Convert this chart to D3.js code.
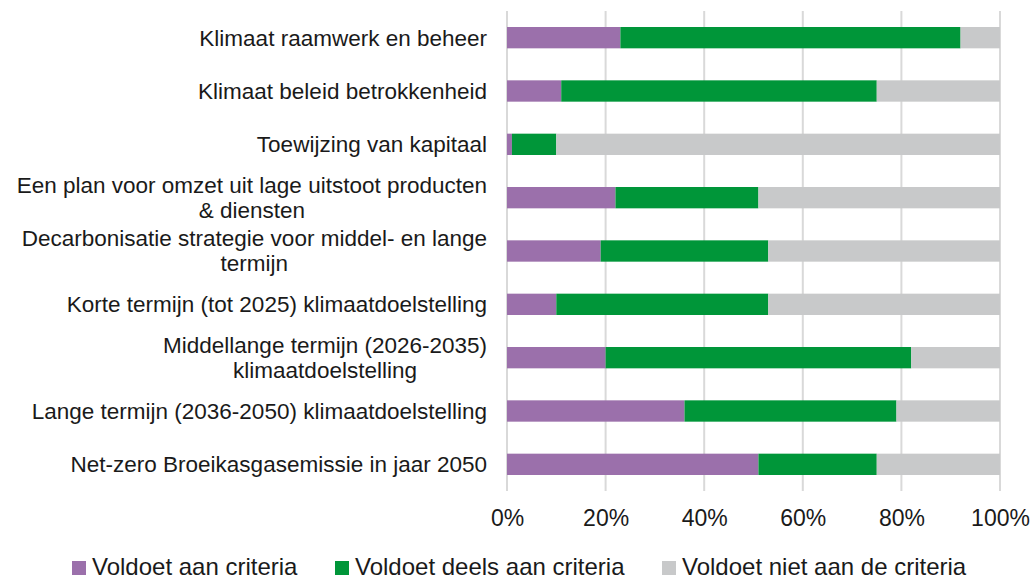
<!DOCTYPE html>
<head>
	<meta charset="utf-8">
	<title>Klimaatcriteria</title>
	<style>
	body { margin: 0; background: #fff; }
	text { font-family: "Liberation Sans", Arial, sans-serif; fill: #1a1a1a; }
	.grid line { stroke: #d9d9d9; stroke-width: 2; }
	</style>
</head>
<body>
<script src="https://d3js.org/d3.v7.min.js"></script>
<script>

// categories (label lines as shown on the chart)
var categories = [
	["Klimaat raamwerk en beheer"],
	["Klimaat beleid betrokkenheid"],
	["Toewijzing van kapitaal"],
	["Een plan voor omzet uit lage uitstoot producten", "& diensten"],
	["Decarbonisatie strategie voor middel- en lange", "termijn"],
	["Korte termijn (tot 2025) klimaatdoelstelling"],
	["Middellange termijn (2026-2035)", "klimaatdoelstelling"],
	["Lange termijn (2036-2050) klimaatdoelstelling"],
	["Net-zero Broeikasgasemissie in jaar 2050"]
];

var series = ["Voldoet aan criteria", "Voldoet deels aan criteria", "Voldoet niet aan de criteria"];
var colors = ["#9b70ab", "#009639", "#c8c9ca"];

var voldoet      = [23, 11, 1, 22, 19, 10, 20, 36, 51];
var deels        = [69, 64, 9, 29, 34, 43, 62, 43, 24];
var niet         = [8, 25, 90, 49, 47, 47, 18, 21, 25];

var ticks = [0, 20, 40, 60, 80, 100];

var width = 1034, height = 581;

var svg = d3.select("body").append("svg")
	.attr("width", width)
	.attr("height", height);

var x = d3.scaleLinear().domain([0, 100]).range([507, 1000]);
var y = d3.scaleBand().domain(d3.range(categories.length)).range([11, 491])
	.paddingInner(0.6).paddingOuter(0.3);

// gridlines
svg.append("g").attr("class", "grid")
	.selectAll("line").data(ticks).enter().append("line")
	.attr("x1", function(d) { return x(d); })
	.attr("x2", function(d) { return x(d); })
	.attr("y1", 11).attr("y2", 491);

// stacked bars
var rows = categories.map(function(c, i) {
	return { i: i, a: voldoet[i], b: deels[i], c: niet[i] };
});
var stack = d3.stack().keys(["a", "b", "c"])(rows);

svg.selectAll(".layer").data(stack).enter().append("g")
	.attr("fill", function(d, i) { return colors[i]; })
	.selectAll("rect").data(function(d) { return d; }).enter().append("rect")
	.attr("x", function(d) { return x(d[0]); })
	.attr("width", function(d) { return x(d[1]) - x(d[0]); })
	.attr("y", function(d) { return y(d.data.i); })
	.attr("height", y.bandwidth());

// x axis tick labels
var xAxis = d3.axisBottom(x).tickValues(ticks).tickSize(0).tickPadding(0)
	.tickFormat(function(d) { return d + "%"; });
var ax = svg.append("g").attr("transform", "translate(0,510)").call(xAxis);
ax.select(".domain").remove();
ax.selectAll("text").attr("font-size", 23).attr("fill", "#1a1a1a")
	.attr("font-family", "Liberation Sans, Arial, sans-serif").attr("dy", "0.71em");

// category labels
var labelRight = 487, lineH = 25;
var lab = svg.append("g").selectAll("text").data(categories).enter().append("text")
	.attr("font-size", 22.5);
lab.each(function(lines, i) {
	var t = d3.select(this);
	var cy = y(i) + y.bandwidth() / 2;
	var n = lines.length;
	lines.forEach(function(l, k) {
		t.append("tspan").text(l)
			.attr("y", cy + (k - (n - 1) / 2) * lineH)
			.attr("dy", "0.35em");
	});
	// widest line determines block; lines are centred inside the block
	var w = 0;
	t.selectAll("tspan").each(function() { w = Math.max(w, this.getComputedTextLength()); });
	if (n === 1) {
		t.attr("text-anchor", "end").selectAll("tspan").attr("x", labelRight);
	} else {
		t.attr("text-anchor", "middle").selectAll("tspan").attr("x", labelRight - w / 2);
	}
});

// legend
var legendX = [72, 335, 662];
var lg = svg.append("g").selectAll("g").data(series).enter().append("g")
	.attr("transform", function(d, i) { return "translate(" + legendX[i] + ",561)"; });
lg.append("rect").attr("width", 14).attr("height", 14)
	.attr("fill", function(d, i) { return colors[i]; });
lg.append("text").attr("x", 20).attr("y", 14)
	.attr("font-size", 24).text(function(d) { return d; });

</script>
</body>
